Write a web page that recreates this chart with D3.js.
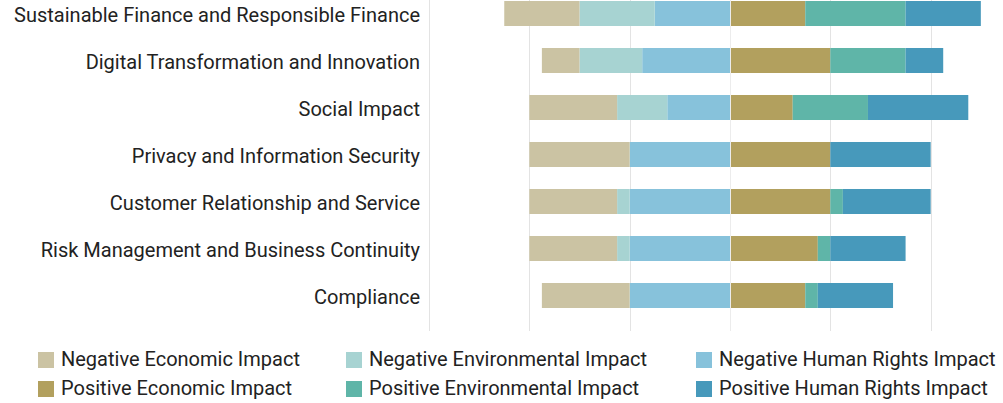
<!DOCTYPE html>
<html>
<head>
<meta charset="utf-8">
<script src="https://cdn.jsdelivr.net/npm/d3@7"></script>
<style>
  body { margin: 0; background: #fff; }
  svg { font-family: Roboto, "Noto Sans", sans-serif; }
</style>
</head>
<body>
<script>
const categories = [
  'Sustainable Finance and Responsible Finance',
  'Digital Transformation and Innovation',
  'Social Impact',
  'Privacy and Information Security',
  'Customer Relationship and Service',
  'Risk Management and Business Continuity',
  'Compliance'
]

const negEconomic = [6, 3, 7, 8, 7, 7, 7]
const negEnvironmental = [6, 5, 4, 0, 1, 1, 0]
const negHumanRights = [6, 7, 5, 8, 8, 8, 8]
const posEconomic = [6, 8, 5, 8, 8, 7, 6]
const posEnvironmental = [8, 6, 6, 0, 1, 1, 1]
const posHumanRights = [6, 3, 8, 8, 7, 6, 6]

const gridTicks = [-24, -16, -8, 0, 8, 16]

const seriesNames = [
  'Negative Economic Impact', 'Negative Environmental Impact', 'Negative Human Rights Impact',
  'Positive Economic Impact', 'Positive Environmental Impact', 'Positive Human Rights Impact'
]
const colors = ['#cbc3a3', '#a7d3d2', '#87c2db', '#b2a05e', '#5fb5a8', '#4799bb']

const w = 1003
const h = 403

const svg = d3.select('body')
  .append('svg')
  .attr('width', w)
  .attr('height', h)

const xScale = d3.scaleLinear()
  .domain([-24, 24])
  .range([429, 1031])

const yScale = d3.scaleBand()
  .domain(categories)
  .range([-10, 319])
  .paddingInner(0.468)
  .paddingOuter(0.234)

// grid
svg.append('g')
  .selectAll('line')
  .data(gridTicks)
  .enter()
  .append('line')
  .attr('x1', d => Math.round(xScale(d)) + 0.5)
  .attr('x2', d => Math.round(xScale(d)) + 0.5)
  .attr('y1', 0)
  .attr('y2', 331)
  .attr('stroke', '#e3e3e3')
  .attr('stroke-width', 1)

// build segments: negative side stacks outward from 0 (human rights nearest)
let segments = []
categories.forEach((c, i) => {
  let neg = [[negHumanRights[i], 2], [negEnvironmental[i], 1], [negEconomic[i], 0]]
  let pos = [[posEconomic[i], 3], [posEnvironmental[i], 4], [posHumanRights[i], 5]]
  let acc = 0
  neg.forEach(([v, s]) => {
    segments.push({cat: c, x0: acc - v, x1: acc, s: s})
    acc -= v
  })
  acc = 0
  pos.forEach(([v, s]) => {
    segments.push({cat: c, x0: acc, x1: acc + v, s: s})
    acc += v
  })
})

svg.append('g')
  .selectAll('rect')
  .data(segments.filter(d => d.x1 > d.x0))
  .enter()
  .append('rect')
  .attr('x', d => xScale(d.x0))
  .attr('width', d => xScale(d.x1) - xScale(d.x0))
  .attr('y', d => yScale(d.cat))
  .attr('height', yScale.bandwidth())
  .attr('fill', d => colors[d.s])

// center line on top of bars
svg.append('line')
  .attr('x1', Math.round(xScale(0)) + 0.5)
  .attr('x2', Math.round(xScale(0)) + 0.5)
  .attr('y1', 0)
  .attr('y2', 331)
  .attr('stroke', '#ececec')
  .attr('stroke-width', 1)

// category labels
svg.append('g')
  .selectAll('text')
  .data(categories)
  .enter()
  .append('text')
  .attr('x', 420)
  .attr('y', d => yScale(d) + yScale.bandwidth() / 2 + 1)
  .attr('dy', '0.35em')
  .attr('text-anchor', 'end')
  .attr('font-size', 20)
  .attr('fill', '#222')
  .text(d => d)

// legend
const legendX = [38, 346, 696]
const legendY = [350, 379]
const legend = svg.append('g')
  .selectAll('g')
  .data(seriesNames)
  .enter()
  .append('g')
  .attr('transform', (d, i) => 'translate(' + legendX[i % 3] + ',' + legendY[Math.floor(i / 3)] + ')')

legend.append('rect')
  .attr('y', 2)
  .attr('width', 16)
  .attr('height', 16)
  .attr('fill', (d, i) => colors[i])

legend.append('text')
  .attr('x', 23)
  .attr('y', 9)
  .attr('dy', '0.35em')
  .attr('font-size', 20)
  .attr('fill', '#222')
  .text(d => d)
</script>
</body>
</html>
